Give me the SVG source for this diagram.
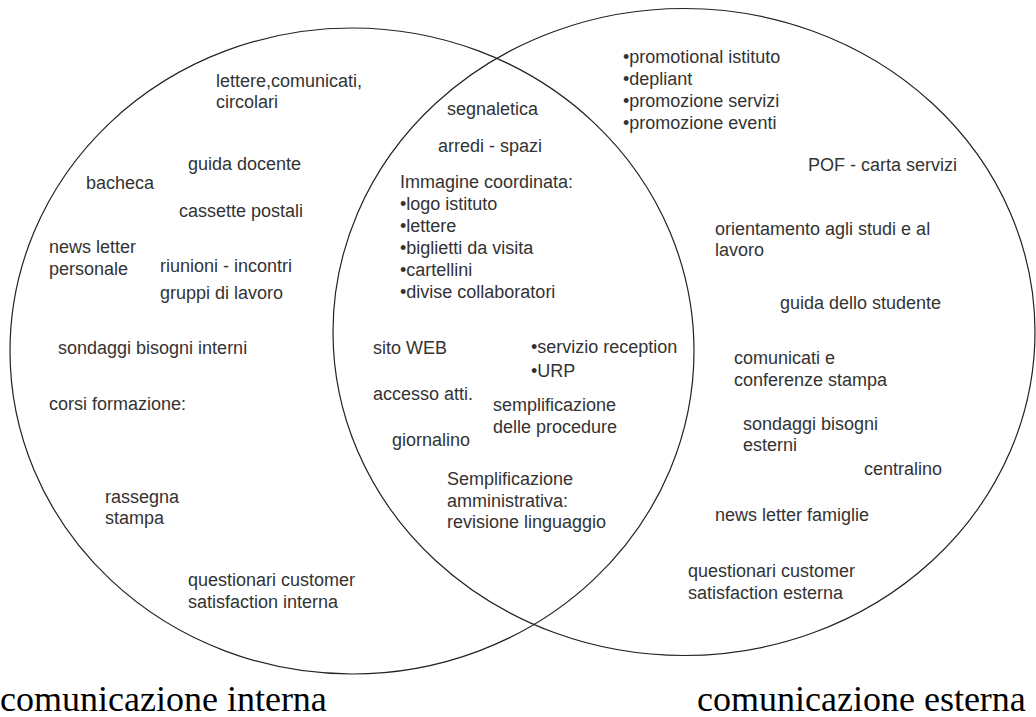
<svg xmlns="http://www.w3.org/2000/svg" width="1036" height="717" viewBox="0 0 1036 717">
<style>
.c{fill:none;stroke:#222;stroke-width:1.2}
.t{font-family:"Liberation Sans",Arial,sans-serif;font-size:18px;fill:#333}
.h{font-family:"Liberation Serif","Times New Roman",serif;font-size:36px;fill:#000}
</style>
<rect width="1036" height="717" fill="#fff"/>
<g id="circles">
<ellipse id="interna" class="c" cx="352" cy="351" rx="342" ry="323"/>
<ellipse id="esterna" class="c" cx="684" cy="332" rx="351" ry="323.5"/>
</g>
<g id="left" class="t">
<text x="216" y="87">lettere,comunicati,</text>
<text x="216" y="108">circolari</text>
<text x="188" y="170">guida docente</text>
<text x="86" y="189">bacheca</text>
<text x="179" y="217">cassette postali</text>
<text x="49" y="253">news letter</text>
<text x="49" y="275">personale</text>
<text x="160" y="272">riunioni - incontri</text>
<text x="160" y="299">gruppi di lavoro</text>
<text x="58" y="354">sondaggi bisogni interni</text>
<text x="49" y="410">corsi formazione:</text>
<text x="105" y="503">rassegna</text>
<text x="105" y="524">stampa</text>
<text x="188" y="586">questionari customer</text>
<text x="188" y="608">satisfaction interna</text>
</g>
<g id="middle" class="t">
<text x="447" y="115">segnaletica</text>
<text x="438" y="152">arredi - spazi</text>
<text x="400" y="188">Immagine coordinata:</text>
<text x="400" y="210">•logo istituto</text>
<text x="400" y="232">•lettere</text>
<text x="400" y="254">•biglietti da visita</text>
<text x="400" y="276">•cartellini</text>
<text x="400" y="298">•divise collaboratori</text>
<text x="373" y="354">sito WEB</text>
<text x="531" y="353">•servizio reception</text>
<text x="531" y="377">•URP</text>
<text x="373" y="400">accesso atti.</text>
<text x="493" y="411">semplificazione</text>
<text x="493" y="433">delle procedure</text>
<text x="392" y="446">giornalino</text>
<text x="447" y="485">Semplificazione</text>
<text x="447" y="507">amministrativa:</text>
<text x="447" y="528">revisione linguaggio</text>
</g>
<g id="right" class="t">
<text x="623" y="63">•promotional istituto</text>
<text x="623" y="85">•depliant</text>
<text x="623" y="107">•promozione servizi</text>
<text x="623" y="129">•promozione eventi</text>
<text x="808" y="171">POF - carta servizi</text>
<text x="715" y="235">orientamento agli studi e al</text>
<text x="715" y="256">lavoro</text>
<text x="780" y="309">guida dello studente</text>
<text x="734" y="364">comunicati e</text>
<text x="734" y="386">conferenze stampa</text>
<text x="743" y="430">sondaggi bisogni</text>
<text x="743" y="451">esterni</text>
<text x="864" y="475">centralino</text>
<text x="715" y="521">news letter famiglie</text>
<text x="688" y="577">questionari customer</text>
<text x="688" y="599">satisfaction esterna</text>
</g>
<g id="labels" class="h">
<text x="0" y="711">comunicazione interna</text>
<text x="697" y="711">comunicazione esterna</text>
</g>
</svg>
